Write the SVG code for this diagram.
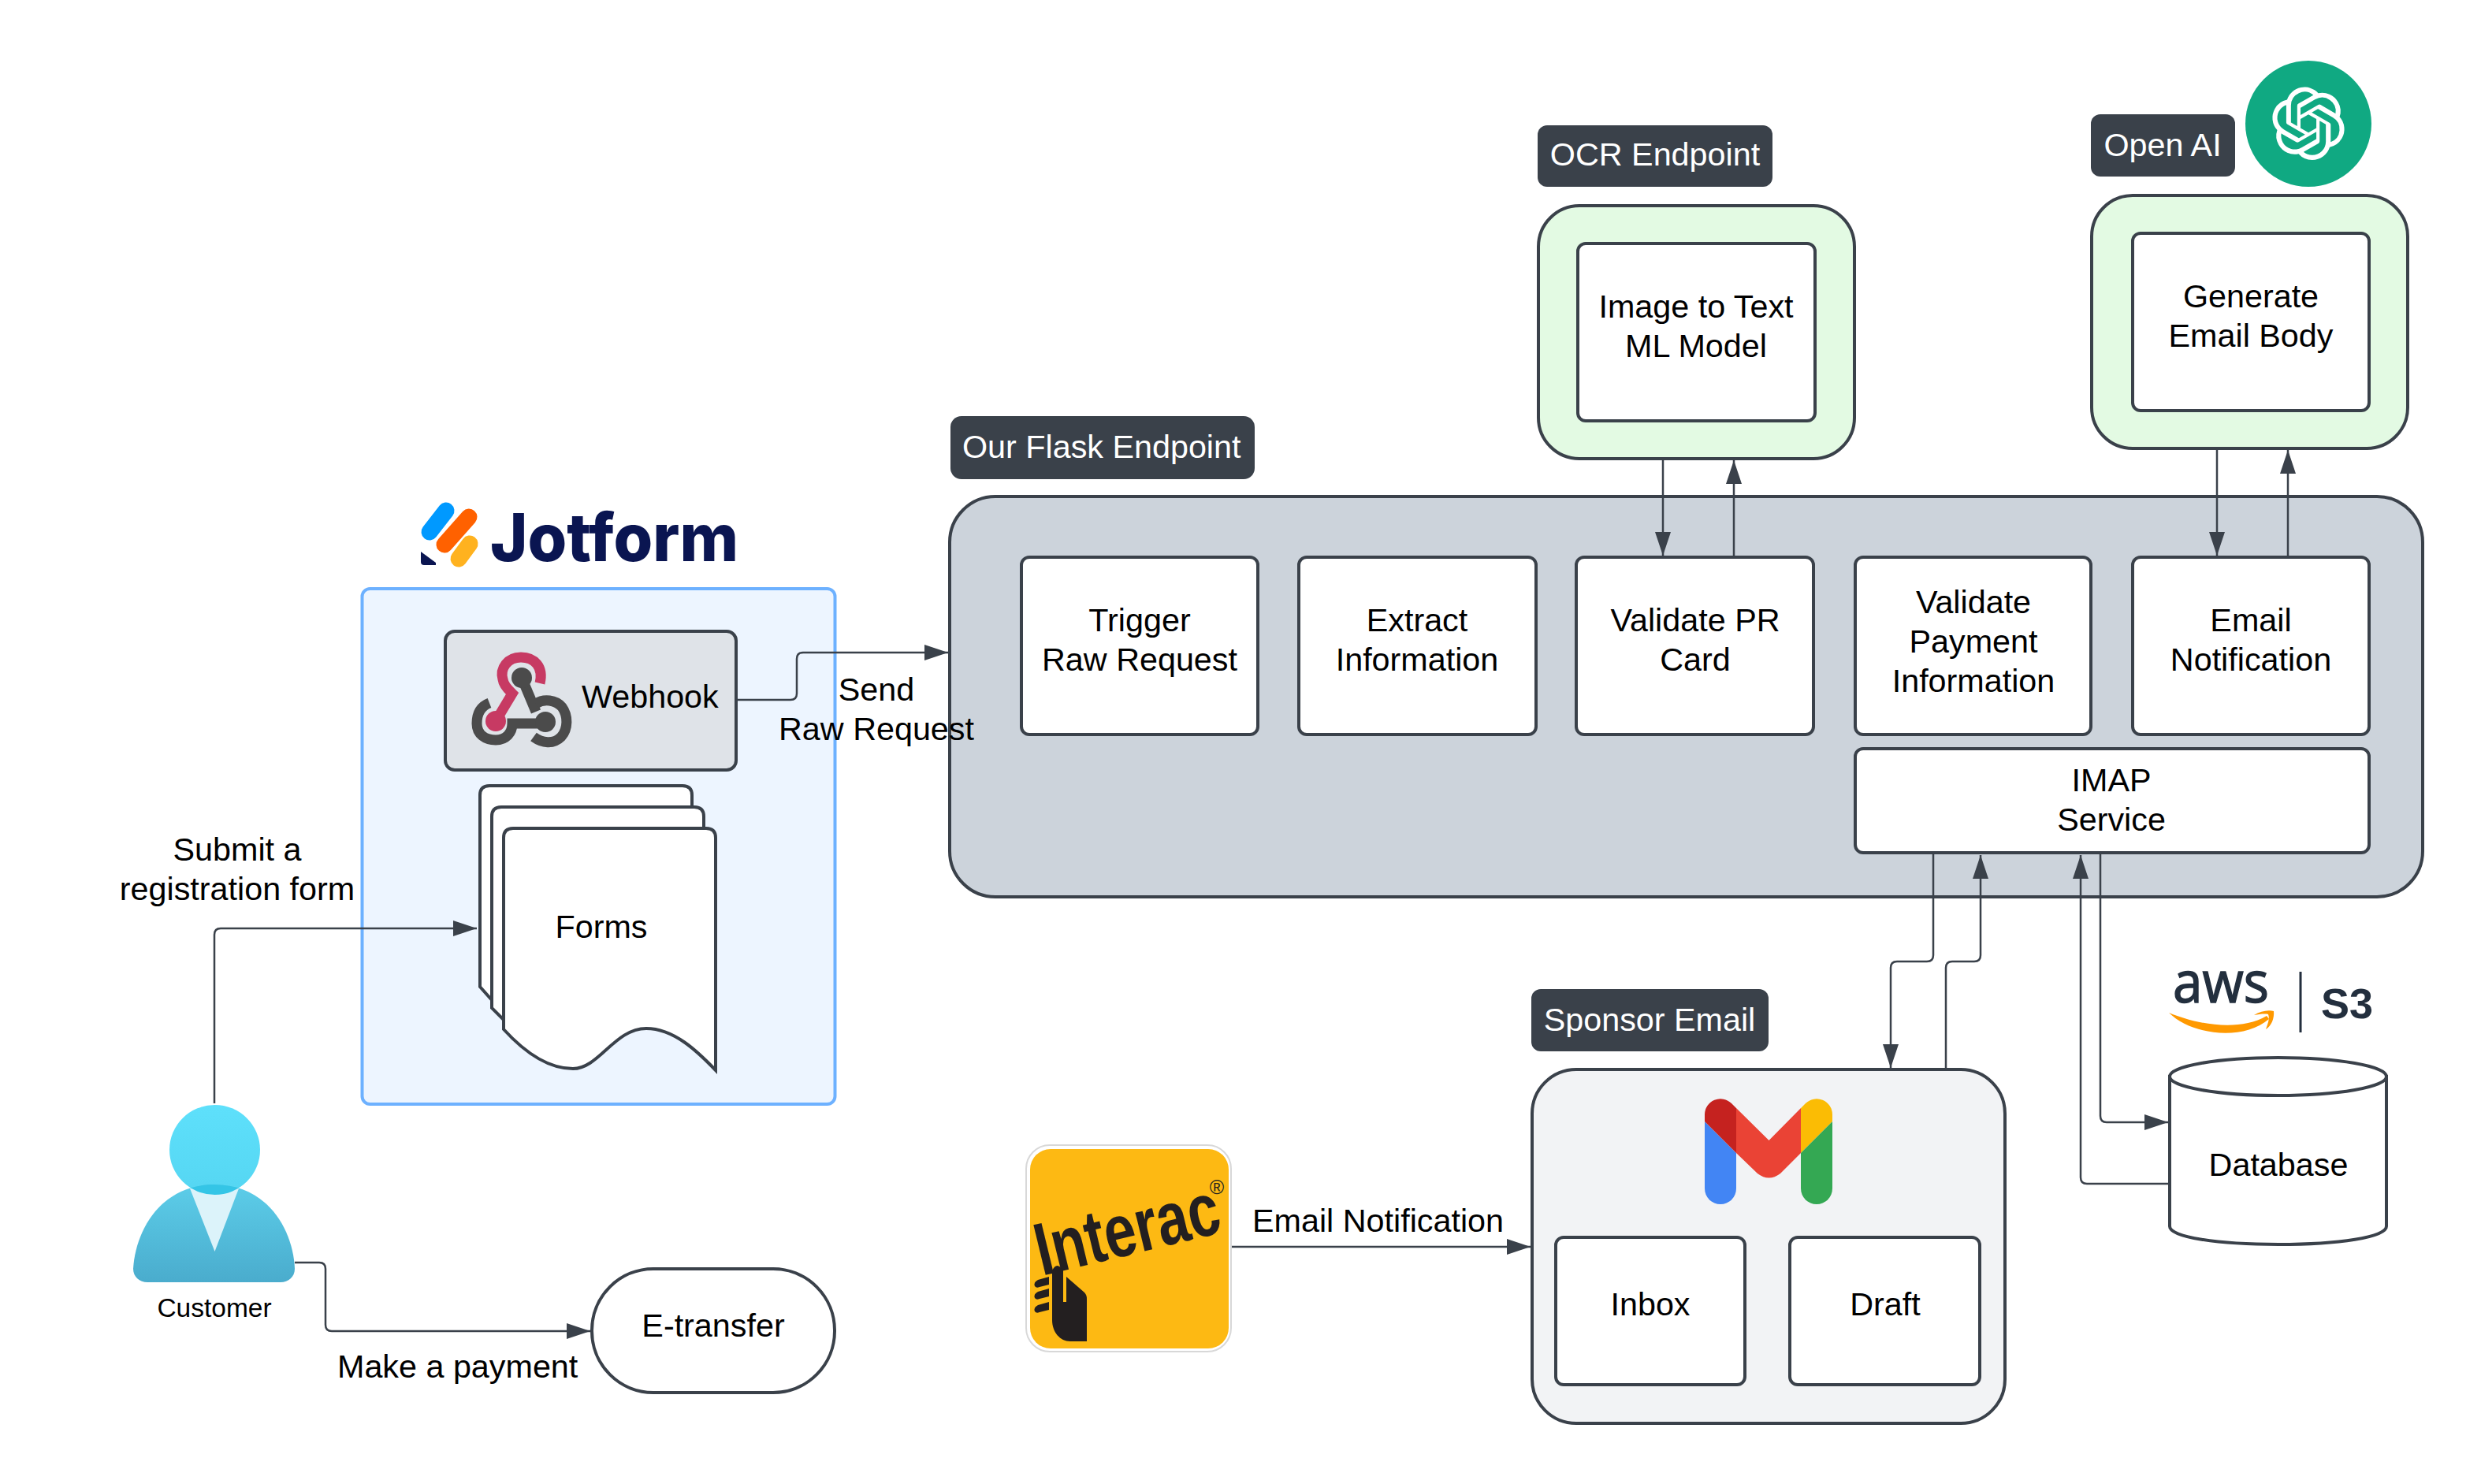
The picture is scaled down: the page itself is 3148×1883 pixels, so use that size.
<svg xmlns="http://www.w3.org/2000/svg" width="3148" height="1883" viewBox="0 0 3148 1883">
<style>
text{font-family:"Liberation Sans",Arial,sans-serif;font-size:41.300px;fill:#000}
.c{text-anchor:middle}
.w{fill:#fff}
.box{fill:#fff;stroke:#3a414a;stroke-width:4}
.lab{fill:#3a414a}
.cn{fill:none;stroke:#3a414a;stroke-width:2.5}
</style>
<defs>
<marker id="ah" markerUnits="userSpaceOnUse" markerWidth="30" markerHeight="20" refX="30" refY="10" orient="auto"><path d="M0,0L30,10L0,20Z" fill="#3a414a"/></marker>
<linearGradient id="gh" x1="0" y1="0" x2="0" y2="1"><stop offset="0" stop-color="#5ee0fb"/><stop offset="1" stop-color="#55d6f2"/></linearGradient>
<linearGradient id="gb" x1="0" y1="0" x2="0" y2="1"><stop offset="0" stop-color="#5ccde9"/><stop offset="1" stop-color="#4aaccd"/></linearGradient>
<clipPath id="bodyclip"><path d="M169,1610C172,1560 205,1503 272,1503C339,1503 372,1560 374,1610C374,1620 366,1627 356,1627H187C177,1627 169,1620 169,1610Z"/></clipPath>
</defs>

<g id="jotform-logo">
<path d="M566,648L545,675" stroke="#0099ff" stroke-width="21" stroke-linecap="round" fill="none"/>
<path d="M595,656L564,691" stroke="#ff6100" stroke-width="21" stroke-linecap="round" fill="none"/>
<path d="M596,690L582,709" stroke="#ffb21f" stroke-width="21" stroke-linecap="round" fill="none"/>
<path d="M534,700L553,714V717H538Q534,717 534,713Z" fill="#0a1551"/>
<text x="622" y="712" style="font-family:Inter,'Liberation Sans',sans-serif;font-size:84px;font-weight:800;fill:#0a1551" textLength="315" lengthAdjust="spacingAndGlyphs">Jotform</text>
</g>

<g id="jotform-panel"><rect x="459.500" y="747" width="600" height="654" rx="10" fill="#edf5ff" stroke="#6db1ff" stroke-width="4"/></g>

<g id="webhook">
<rect x="565" y="801" width="369" height="176" rx="12" fill="#dfe3e8" stroke="#3a414a" stroke-width="4"/>
<path d="M685,867C690,846 678,834 661,834C644,834 634,848 638,862C639,870 646,876 650,880L629,915" fill="none" stroke="#c73a63" stroke-width="13"/>
<circle cx="629" cy="915" r="13" fill="#c73a63"/>
<path d="M662,860L680,903" stroke="#4b4b4b" stroke-width="13" fill="none"/>
<circle cx="662" cy="860" r="13" fill="#4b4b4b"/>
<path d="M680,893C690,886 705,888 713,897C721,908 721,925 712,935C702,945 688,943 677,935" fill="none" stroke="#4b4b4b" stroke-width="13"/>
<path d="M621,892C608,897 605,908 605,918C605,932 616,939 629,939C642,939 650,930 650,918H692" fill="none" stroke="#4b4b4b" stroke-width="13"/>
<circle cx="692" cy="916" r="13" fill="#4b4b4b"/>
<text x="738" y="898">Webhook</text>
</g>

<g id="forms">
<path class="box" d="M609,1252V1009Q609,997 621,997H866Q878,997 878,1009V1040H640V1270H625Z"/>
<path class="box" d="M624,1279V1036Q624,1024 636,1024H881Q893,1024 893,1036V1070H655V1297H642Z"/>
<path class="box" d="M639,1306V1063Q639,1051 651,1051H896Q908,1051 908,1063V1358C885,1334 855,1305 820,1305C780,1305 760,1356 727,1356C700,1356 670,1340 639,1306Z"/>
<text class="c" x="763" y="1190">Forms</text>
</g>

<g id="flask">
<rect x="1205" y="630" width="1869" height="508" rx="58" fill="#ccd3db" stroke="#3a414a" stroke-width="4"/>
<rect class="lab" x="1206" y="528" width="386" height="80" rx="14"/>
<text class="w" x="1221" y="581">Our Flask Endpoint</text>
</g>
<g id="trigger"><rect class="box" x="1296" y="707" width="300" height="225" rx="10"/><text class="c" x="1446" y="801">Trigger</text><text class="c" x="1446" y="851">Raw Request</text></g>
<g id="extract"><rect class="box" x="1648" y="707" width="301" height="225" rx="10"/><text class="c" x="1798" y="801">Extract</text><text class="c" x="1798" y="851">Information</text></g>
<g id="validate-pr"><rect class="box" x="2000" y="707" width="301" height="225" rx="10"/><text class="c" x="2151" y="801">Validate PR</text><text class="c" x="2151" y="851">Card</text></g>
<g id="validate-payment"><rect class="box" x="2354" y="707" width="299" height="225" rx="10"/><text class="c" x="2504" y="778">Validate</text><text class="c" x="2504" y="828">Payment</text><text class="c" x="2504" y="878">Information</text></g>
<g id="email-notification"><rect class="box" x="2706" y="707" width="300" height="225" rx="10"/><text class="c" x="2856" y="801">Email</text><text class="c" x="2856" y="851">Notification</text></g>
<g id="imap"><rect class="box" x="2354" y="950" width="652" height="132" rx="10"/><text class="c" x="2679" y="1004">IMAP</text><text class="c" x="2679" y="1054">Service</text></g>

<g id="ocr">
<rect class="lab" x="1951" y="159" width="298" height="78" rx="12"/>
<text class="w c" x="2100" y="210">OCR Endpoint</text>
<rect x="1952" y="261" width="401" height="321" rx="52" fill="#e3fae3" stroke="#3a414a" stroke-width="4"/>
<rect class="box" x="2002" y="309" width="301" height="225" rx="10"/>
<text class="c" x="2152" y="403">Image to Text</text><text class="c" x="2152" y="453">ML Model</text>
</g>

<g id="openai">
<rect class="lab" x="2653" y="145" width="183" height="79" rx="12"/>
<text class="w c" x="2744" y="198">Open AI</text>
<circle cx="2929" cy="157" r="80" fill="#10a982"/>
<path transform="translate(2882.800,110.500) scale(3.850)" fill="#fff" d="M22.2819 9.8211a5.9847 5.9847 0 0 0-.5157-4.9108 6.0462 6.0462 0 0 0-6.5098-2.9A6.0651 6.0651 0 0 0 4.9807 4.1818a5.9847 5.9847 0 0 0-3.9977 2.9 6.0462 6.0462 0 0 0 .7427 7.0966 5.98 5.98 0 0 0 .511 4.9107 6.051 6.051 0 0 0 6.5146 2.9001A5.9847 5.9847 0 0 0 13.2599 24a6.0557 6.0557 0 0 0 5.7718-4.2058 5.9894 5.9894 0 0 0 3.9977-2.9001 6.0557 6.0557 0 0 0-.7475-7.0729zm-9.022 12.6081a4.4755 4.4755 0 0 1-2.8764-1.0408l.1419-.0804 4.7783-2.7582a.7948.7948 0 0 0 .3927-.6813v-6.7369l2.02 1.1686a.071.071 0 0 1 .038.052v5.5826a4.504 4.504 0 0 1-4.4945 4.4944zm-9.6607-4.1254a4.4708 4.4708 0 0 1-.5346-3.0137l.142.0852 4.783 2.7582a.7712.7712 0 0 0 .7806 0l5.8428-3.3685v2.3324a.0804.0804 0 0 1-.0332.0615L9.74 19.9502a4.4992 4.4992 0 0 1-6.1408-1.6464zM2.3408 7.8956a4.485 4.485 0 0 1 2.3655-1.9728V11.6a.7664.7664 0 0 0 .3879.6765l5.8144 3.3543-2.0201 1.1685a.0757.0757 0 0 1-.071 0l-4.8303-2.7865A4.504 4.504 0 0 1 2.3408 7.872zm16.5963 3.8558L13.1038 8.364 15.1192 7.2a.0757.0757 0 0 1 .071 0l4.8303 2.7913a4.4944 4.4944 0 0 1-.6765 8.1042v-5.6772a.79.79 0 0 0-.407-.667zm2.0107-3.0231l-.142-.0852-4.7735-2.7818a.7759.7759 0 0 0-.7854 0L9.409 9.2297V6.8974a.0662.0662 0 0 1 .0284-.0615l4.8303-2.7866a4.4992 4.4992 0 0 1 6.6802 4.66zM8.3065 12.863l-2.02-1.1638a.0804.0804 0 0 1-.038-.0567V6.0742a4.4992 4.4992 0 0 1 7.3757-3.4537l-.142.0805L8.704 5.459a.7948.7948 0 0 0-.3927.6813zm1.0976-2.3654l2.602-1.4998 2.6069 1.4998v2.9994l-2.5974 1.4997-2.6067-1.4997Z"/>
<rect x="2654" y="248" width="401" height="321" rx="52" fill="#e3fae3" stroke="#3a414a" stroke-width="4"/>
<rect class="box" x="2706" y="296" width="300" height="225" rx="10"/>
<text class="c" x="2856" y="390">Generate</text><text class="c" x="2856" y="440">Email Body</text>
</g>

<g id="sponsor-email">
<rect class="lab" x="1943" y="1255" width="301" height="79" rx="12"/>
<text class="w c" x="2093" y="1308">Sponsor Email</text>
<rect x="1944" y="1357" width="600" height="449" rx="56" fill="#f2f3f5" stroke="#3a414a" stroke-width="4"/>
<path d="M2163,1423L2203,1463V1508A20,20 0 0 1 2163,1508Z" fill="#4285f4"/>
<path d="M2163,1423V1414A20,20 0 0 1 2197,1400L2203,1406V1463Z" fill="#c5221f"/>
<path d="M2203,1406L2244.500,1447L2285,1406V1463L2259,1489Q2244.500,1500 2230,1489L2203,1463Z" fill="#ea4335"/>
<path d="M2285,1406L2291,1400A20,20 0 0 1 2325,1414V1423L2285,1463Z" fill="#fbbc04"/>
<path d="M2325,1423L2285,1463V1508A20,20 0 0 0 2325,1508Z" fill="#34a853"/>
</g>
<g id="inbox"><rect class="box" x="1974" y="1570" width="240" height="187" rx="10"/><text class="c" x="2094" y="1669">Inbox</text></g>
<g id="draft"><rect class="box" x="2271" y="1570" width="241" height="187" rx="10"/><text class="c" x="2392" y="1669">Draft</text></g>

<g id="aws-logo">
<text x="2757" y="1272" style="font-family:'Open Sans','Liberation Sans',sans-serif;font-size:73px;fill:#232f3e;stroke:#232f3e;stroke-width:1.500" textLength="122" lengthAdjust="spacingAndGlyphs">aws</text>
<path d="M2752,1285C2785,1299 2840,1310 2876,1289L2879,1293C2845,1322 2780,1313 2752,1285Z" fill="#ff9900"/>
<path d="M2860,1288C2868,1283 2878,1281 2885,1283C2886,1292 2882,1302 2875,1306C2878,1298 2880,1292 2878,1287C2874,1286 2866,1287 2860,1288Z" fill="#ff9900"/>
<rect x="2917.500" y="1233" width="3" height="77" fill="#232f3e"/>
<text x="2945" y="1292" style="font-size:54px;font-weight:bold;fill:#232f3e">S3</text>
</g>

<g id="database">
<path d="M2753,1366V1556C2753,1570 2815,1579 2891,1579C2967,1579 3028,1570 3028,1556V1366Z" fill="#fff" stroke="#3a414a" stroke-width="4"/>
<ellipse cx="2890.500" cy="1366" rx="137.500" ry="24" fill="#fff" stroke="#3a414a" stroke-width="4"/>
<text class="c" x="2891" y="1492">Database</text>
</g>

<g id="interac">
<rect x="1302" y="1453" width="260" height="262" rx="30" fill="#fff" stroke="#d8d8d8" stroke-width="2"/>
<rect x="1307" y="1458" width="252" height="253" rx="26" fill="#fdb913"/>
<text transform="translate(1322,1619) rotate(-13.600)" style="font-size:95px;font-weight:bold;fill:#231f20" textLength="238" lengthAdjust="spacingAndGlyphs">Interac</text>
<text x="1544" y="1515" class="c" style="font-size:25px;fill:#231f20">®</text>
<path d="M1335,1612Q1341,1600 1349,1612V1652H1353V1620L1376,1640Q1379,1643 1379,1648V1702H1358C1345,1702 1335,1690 1335,1675Z" fill="#231f20"/>
<path d="M1331,1620L1317,1624Q1311,1627 1313,1632Q1315,1635 1319,1633L1331,1630Z" fill="#231f20"/>
<path d="M1331,1635L1317,1639Q1311,1642 1313,1647Q1315,1650 1319,1648L1331,1645Z" fill="#231f20"/>
<path d="M1331,1652L1317,1656Q1311,1659 1313,1664Q1315,1667 1319,1665L1331,1662Z" fill="#231f20"/>
</g>

<g id="customer">
<ellipse cx="272.500" cy="1459" rx="57.500" ry="57" fill="url(#gh)"/>
<path d="M169,1610C172,1560 205,1503 272,1503C339,1503 372,1560 374,1610C374,1620 366,1627 356,1627H187C177,1627 169,1620 169,1610Z" fill="url(#gb)"/>
<path d="M241,1508H303L272.500,1588Z" fill="#dcf3fa"/>
<ellipse cx="272.500" cy="1459" rx="57.500" ry="57" fill="#34c5e6" clip-path="url(#bodyclip)"/>
<text class="c" x="272" y="1671" style="font-size:33.500px">Customer</text>
</g>

<g id="etransfer"><rect x="751" y="1610" width="308" height="157" rx="78" class="box"/><text class="c" x="905" y="1696">E-transfer</text></g>

<g id="connectors">
<path class="cn" marker-end="url(#ah)" d="M272,1400V1186Q272,1178 280,1178H605"/>
<path class="cn" marker-end="url(#ah)" d="M374,1602H405Q413,1602 413,1610V1681Q413,1689 421,1689H749"/>
<path class="cn" marker-end="url(#ah)" d="M935,888H1003Q1011,888 1011,880V836Q1011,828 1019,828H1203"/>
<path class="cn" marker-end="url(#ah)" d="M1563,1582H1942"/>
<path class="cn" marker-end="url(#ah)" d="M2110,582V705"/>
<path class="cn" marker-end="url(#ah)" d="M2200,707V584"/>
<path class="cn" marker-end="url(#ah)" d="M2813,569V705"/>
<path class="cn" marker-end="url(#ah)" d="M2903,707V571"/>
<path class="cn" marker-end="url(#ah)" d="M2453,1082V1212Q2453,1220 2445,1220H2407Q2399,1220 2399,1228V1355"/>
<path class="cn" marker-end="url(#ah)" d="M2469,1357V1228Q2469,1220 2477,1220H2505Q2513,1220 2513,1212V1085"/>
<path class="cn" marker-end="url(#ah)" d="M2665,1082V1416Q2665,1424 2673,1424H2751"/>
<path class="cn" marker-end="url(#ah)" d="M2753,1502H2648Q2640,1502 2640,1494V1085"/>
</g>

<g id="connector-labels">
<text class="c" x="1112" y="889">Send</text>
<text class="c" x="1112" y="939">Raw Request</text>
<text class="c" x="301" y="1092">Submit a</text>
<text class="c" x="301" y="1142">registration form</text>
<text x="428" y="1748">Make a payment</text>
<text x="1589" y="1563">Email Notification</text>
</g>
</svg>
